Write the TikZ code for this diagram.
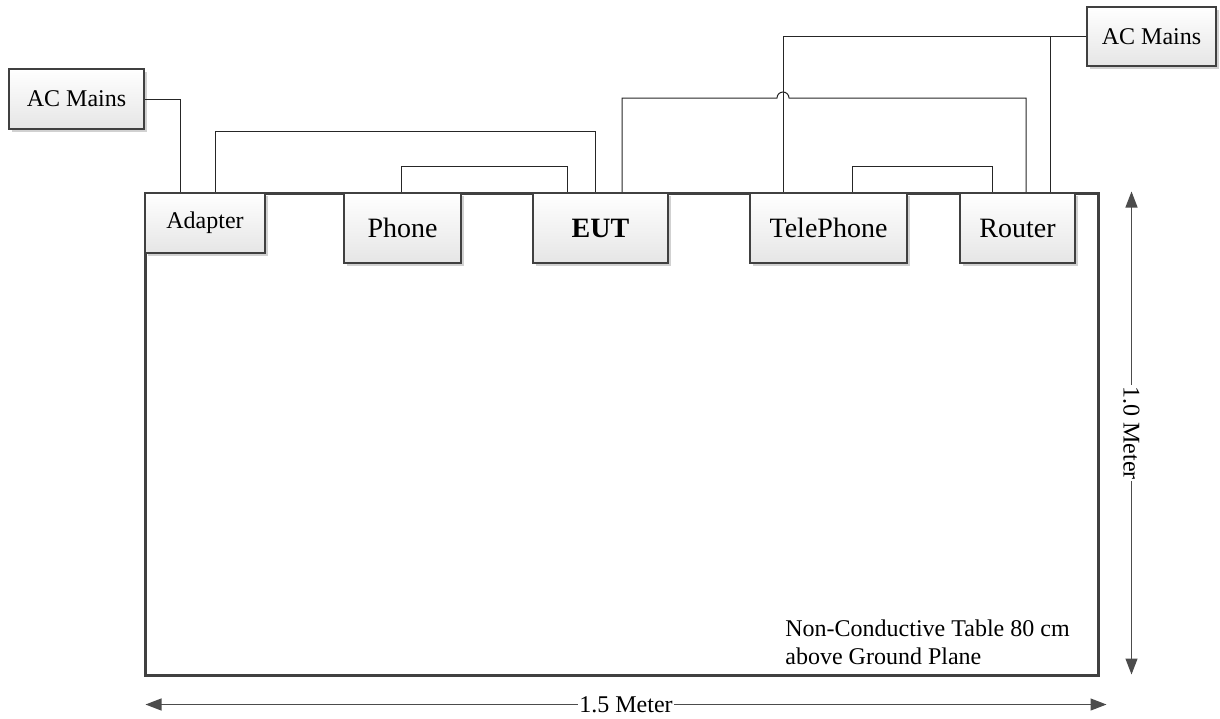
\documentclass[tikz,border=0pt]{standalone}
\usepackage{fontspec}
\setmainfont{Liberation Serif}
\usetikzlibrary{arrows.meta,shadows}

\begin{document}
\begin{tikzpicture}[
  x=0.5pt, y=-0.5pt,
  >={Triangle[length=8pt,width=6pt]},
  unit/.style={draw=black!75, line width=1pt, inner sep=0pt, top color=white, bottom color=black!10,
    drop shadow={shadow xshift=1.5pt, shadow yshift=-1.5pt, fill=black!18, opacity=1},
    minimum height=35pt, font=\fontsize{14}{16}\selectfont},
  mains/.style={unit, minimum height=30pt, font=\fontsize{12}{14}\selectfont},
  wire/.style={draw=black!85, line width=0.5pt},
  dim/.style={draw=black!70, line width=0.6pt, <->},
  dimlabel/.style={fill=white, inner sep=0.5pt, font=\fontsize{12}{14}\selectfont},
]
\useasboundingbox (0,0) rectangle (1220,718);
% the table outline
\node[draw=black!75, line width=1.5pt, fill=white, minimum width=476.5pt, minimum height=241pt,
  drop shadow={shadow xshift=1pt, shadow yshift=-1pt, fill=black!12, opacity=1}] (table) at (621.5,434) {};
\node[anchor=north west, align=left, inner sep=0pt, font=\fontsize{12}{14}\selectfont] (note) at (785,619)
  {Non-Conductive Table 80 cm\\above Ground Plane};
% equipment on the table
\node[mains, minimum width=60pt]   (adapter) at (205,223)    {Adapter};
\node[unit, minimum width=58.5pt]  (phone)   at (402.5,228)  {Phone};
\node[unit, minimum width=67.5pt]  (eut)     at (600.5,228)  {\textbf{EUT}};
\node[unit, minimum width=78.5pt]  (tele)    at (828.5,228)  {TelePhone};
\node[unit, minimum width=57.5pt]  (router)  at (1017.5,228) {Router};
% supplies
\node[mains, minimum width=67.5pt] (acl) at (76.5,99)   {AC Mains};
\node[mains, minimum width=64.5pt, minimum height=29.5pt] (acr) at (1151.5,36.5) {AC Mains};
% cabling
\draw[wire] (acl.east) -| ([xshift=18pt]adapter.north west);
\draw[wire] ([xshift=35.5pt]adapter.north west) -- ++(0,30.5pt) -| ([xshift=31.5pt]eut.north west);
\draw[wire] ([xshift=29pt]phone.north west) -- ++(0,13pt) -| ([xshift=17.5pt]eut.north west);
\draw[wire] ([xshift=51.5pt]tele.north west) -- ++(0,13pt) -| ([xshift=16.5pt]router.north west);
\draw[wire] (acr.west) -| ([xshift=17pt]tele.north west);
\draw[wire] ([xshift=45.5pt]router.north west) |- (acr.west);
% EUT to router, hopping over the telephone supply
\draw[wire] ([xshift=45pt]eut.north west) |- ([xshift=14pt,yshift=47pt]tele.north west)
  arc[start angle=180, end angle=0, radius=3pt] -| ([xshift=33.5pt]router.north west);
% dimensions
\coordinate (vtop) at ([xshift=16pt]table.north east);
\coordinate (vbot) at ([xshift=16pt,yshift=1pt]table.south east);
\coordinate (hl) at ([xshift=1pt,yshift=-14pt]table.south west);
\coordinate (hr) at ([xshift=3.5pt,yshift=-14pt]table.south east);
\draw[dim] (vtop) -- (vbot) node[midway, dimlabel, rotate=-90] {1.0 Meter};
\draw[dim] (hl) -- (hr) node[midway, dimlabel] {1.5 Meter};
\end{tikzpicture}
\end{document}
